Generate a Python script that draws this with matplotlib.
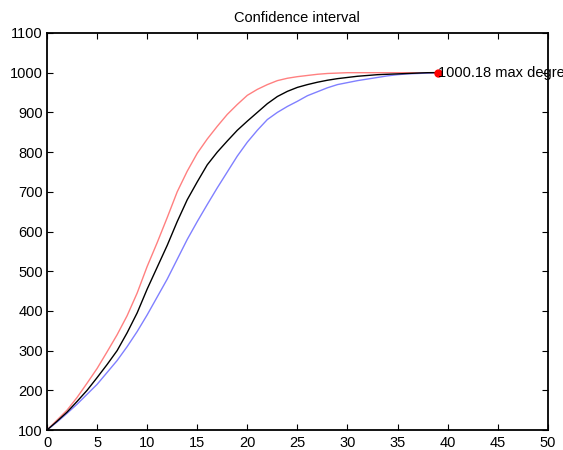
import matplotlib
matplotlib.use('Agg')
import matplotlib.pyplot as plt

# iterations 0..39
x = list(range(40))

# upper bound (red)
upper = [100, 125, 150, 182, 218, 255, 297, 340, 388, 445,
         512, 572, 635, 700, 752, 797, 833, 865, 895, 920,
         943, 958, 970, 980, 986, 990, 993, 996, 998, 999,
         1000, 1000, 1000, 1000, 1000, 1000, 1000, 1000, 1000, 1000]

# mean (black)
mean = [100, 122, 145, 172, 200, 232, 265, 300, 345, 395,
        455, 510, 565, 625, 680, 725, 768, 800, 828, 855,
        878, 900, 922, 940, 953, 963, 970, 976, 981, 985,
        988, 991, 993, 995, 996, 997, 998, 999, 1000, 1000.18]

# lower bound (blue)
lower = [100, 120, 142, 165, 190, 215, 245, 275, 310, 348,
         390, 435, 480, 530, 580, 625, 668, 710, 750, 790,
         825, 855, 882, 900, 915, 928, 942, 952, 962, 970,
         975, 980, 984, 988, 992, 995, 997, 998, 999, 1000]

max_x = 39
max_y = 1000.18

plt.rcParams['font.family'] = ['Liberation Sans', 'DejaVu Sans']
fig = plt.figure(figsize=(5.63, 4.5), dpi=100)
ax = fig.add_axes([0.0835, 0.0444, 0.8895, 0.8823])

ax.plot(x, upper, color='#ff8080', linewidth=1)
ax.plot(x, lower, color='#8080ff', linewidth=1)
ax.plot(x, mean, color='black', linewidth=1)
ax.plot([max_x], [max_y], 'o', color='red', markersize=5)
ax.text(max_x, max_y, '%.2f max degree' % max_y, fontsize=10.5,
        ha='left', va='center', clip_on=False)

ax.set_xlim(0, 50)
ax.set_ylim(100, 1100)
ax.set_xticks(range(0, 51, 5))
ax.set_yticks(range(100, 1101, 100))
for s in ax.spines.values():
    s.set_linewidth(1.3)
ax.tick_params(direction='in', top=True, right=True, length=4, labelsize=10.5)
ax.tick_params(axis='x', pad=4.5)
ax.tick_params(axis='y', pad=3)
ax.set_title('Confidence interval', fontsize=10.5, pad=8)

fig.savefig('out.png', dpi=100)
